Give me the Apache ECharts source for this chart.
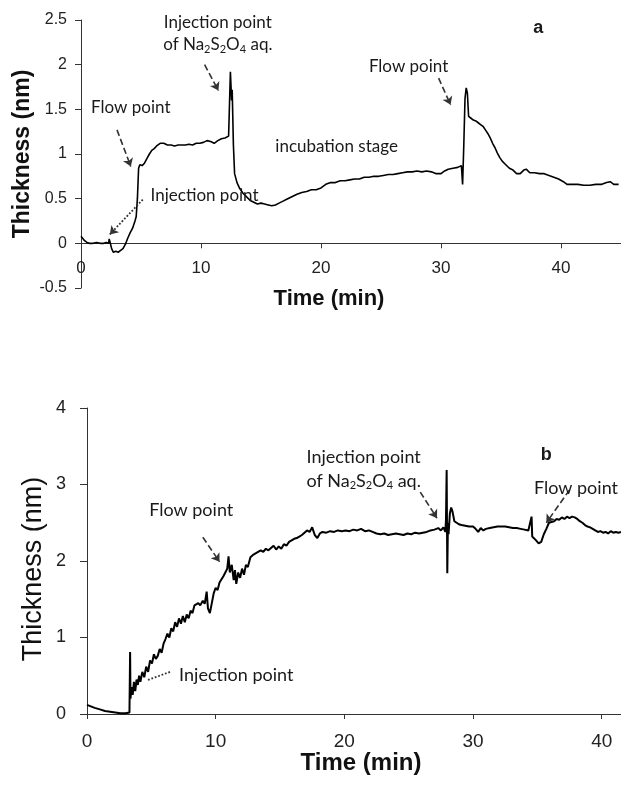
<!DOCTYPE html>
<html>
<head>
<meta charset="utf-8">
<script src="https://cdn.jsdelivr.net/npm/echarts@6/dist/echarts.min.js"></script>
<style>
html,body{margin:0;padding:0;background:#fff;}
#c{width:621px;height:785px;}
</style>
</head>
<body>
<div id="c"></div>
<script>
// ---------- Data ----------
const xTicksA = [0, 10, 20, 30, 40];
const yTicksA = [-0.5, 0, 0.5, 1, 1.5, 2, 2.5];
const xTicksB = [0, 10, 20, 30, 40];
const yTicksB = [0, 1, 2, 3, 4];

const timeA = [0,0.15,0.3,0.5,0.7,1.0,1.3,1.6,1.9,2.1,2.3,2.35,2.45,2.55,2.7,2.9,3.1,3.3,3.5,3.7,3.9,4.1,4.3,4.5,4.6,4.7,4.8,4.9,5.1,5.3,5.5,5.7,5.9,6.1,6.3,6.6,6.9,7.2,7.5,7.8,8.1,8.4,8.7,9.0,9.3,9.6,9.9,10.2,10.5,10.8,11.1,11.4,11.7,12.0,12.3,12.4,12.45,12.55,12.6,12.7,12.8,13.0,13.2,13.5,13.8,14.1,14.4,14.7,15.0,15.3,15.6,15.9,16.2,16.5,16.8,17.1,17.4,17.7,18.0,18.4,18.8,19.2,19.6,20.0,20.4,20.8,21.2,21.6,22.0,22.4,22.8,23.2,23.6,24.0,24.4,24.8,25.2,25.6,26.0,26.4,26.8,27.2,27.6,28.0,28.4,28.8,29.2,29.6,30.0,30.3,30.6,31.0,31.4,31.7,31.8,31.9,32.0,32.1,32.2,32.3,32.5,32.7,32.9,33.1,33.3,33.5,33.7,33.9,34.1,34.3,34.5,34.7,34.9,35.1,35.4,35.7,36.0,36.3,36.6,36.9,37.1,37.4,37.8,38.2,38.6,39.0,39.4,39.8,40.2,40.5,40.9,41.4,41.9,42.4,42.9,43.4,43.8,44.1,44.4,44.8];
const thickA = [0.08,0.07,0.03,0.01,0.0,0.0,0.01,0.0,0.0,0.01,0.0,0.05,0.0,-0.06,-0.1,-0.09,-0.1,-0.08,-0.06,-0.01,0.06,0.12,0.17,0.25,0.3,0.5,0.84,0.88,0.87,0.9,0.95,1.0,1.04,1.06,1.09,1.12,1.12,1.1,1.1,1.09,1.1,1.1,1.1,1.11,1.1,1.12,1.12,1.13,1.15,1.14,1.12,1.15,1.17,1.18,1.2,1.22,1.92,1.6,1.72,1.1,0.78,0.68,0.62,0.56,0.52,0.48,0.46,0.44,0.45,0.44,0.43,0.42,0.43,0.45,0.47,0.49,0.51,0.53,0.55,0.57,0.58,0.6,0.6,0.62,0.66,0.68,0.68,0.7,0.7,0.71,0.72,0.72,0.74,0.74,0.75,0.75,0.76,0.77,0.77,0.78,0.79,0.8,0.8,0.81,0.8,0.81,0.8,0.78,0.78,0.81,0.83,0.84,0.85,0.87,0.66,1.1,1.62,1.74,1.68,1.42,1.4,1.38,1.37,1.35,1.33,1.31,1.27,1.23,1.18,1.12,1.07,1.01,0.96,0.92,0.88,0.84,0.82,0.78,0.78,0.82,0.83,0.79,0.79,0.78,0.78,0.76,0.74,0.72,0.69,0.66,0.66,0.66,0.65,0.65,0.66,0.66,0.68,0.69,0.66,0.66];

const timeB = [0,0.3,0.6,1.0,1.4,1.8,2.2,2.6,3.0,3.3,3.35,3.38,3.45,3.55,3.65,3.75,3.85,3.95,4.05,4.15,4.3,4.45,4.6,4.75,4.9,5.05,5.2,5.35,5.5,5.65,5.8,5.95,6.1,6.25,6.4,6.55,6.7,6.85,7.0,7.15,7.3,7.45,7.6,7.75,7.9,8.05,8.2,8.35,8.5,8.65,8.8,9.0,9.15,9.3,9.4,9.55,9.7,9.85,10.0,10.15,10.3,10.45,10.6,10.75,10.9,11.0,11.1,11.25,11.4,11.5,11.6,11.75,11.9,12.05,12.2,12.35,12.5,12.7,12.9,13.1,13.3,13.5,13.7,13.9,14.1,14.3,14.5,14.7,14.9,15.1,15.3,15.5,15.7,15.9,16.1,16.3,16.5,16.7,16.9,17.1,17.3,17.5,17.7,17.9,18.1,18.3,18.6,18.9,19.2,19.5,19.8,20.1,20.4,20.7,21.0,21.3,21.6,21.9,22.2,22.5,22.8,23.1,23.4,23.7,24.0,24.3,24.6,24.9,25.2,25.5,25.8,26.1,26.4,26.7,27.0,27.3,27.5,27.7,27.85,27.9,27.95,28.0,28.05,28.1,28.2,28.3,28.4,28.55,28.7,28.9,29.1,29.4,29.7,30.0,30.2,30.4,30.6,30.8,31.0,31.3,31.6,31.9,32.2,32.5,32.8,33.1,33.4,33.7,34.0,34.3,34.45,34.55,34.6,34.75,34.9,35.1,35.3,35.5,35.7,35.9,36.1,36.3,36.5,36.7,36.9,37.1,37.3,37.5,37.7,37.9,38.1,38.3,38.5,38.7,38.9,39.1,39.3,39.5,39.7,39.9,40.1,40.3,40.5,40.7,40.9,41.1,41.3,41.5];
const thickB = [0.12,0.1,0.08,0.06,0.04,0.03,0.02,0.01,0.01,0.02,0.81,0.2,0.35,0.25,0.42,0.3,0.45,0.38,0.5,0.42,0.55,0.48,0.62,0.55,0.7,0.66,0.78,0.72,0.76,0.85,0.8,0.92,0.98,1.05,1.0,1.12,1.08,1.2,1.14,1.25,1.18,1.28,1.2,1.3,1.25,1.35,1.32,1.42,1.4,1.45,1.42,1.48,1.44,1.6,1.38,1.32,1.45,1.58,1.65,1.62,1.72,1.7,1.8,1.85,1.9,2.06,1.85,1.95,1.75,1.88,1.7,1.85,1.78,1.9,1.82,1.95,1.92,2.05,2.08,2.1,2.12,2.14,2.12,2.16,2.14,2.17,2.2,2.15,2.19,2.16,2.22,2.2,2.25,2.27,2.29,2.3,2.32,2.34,2.37,2.4,2.38,2.44,2.34,2.3,2.36,2.38,2.37,2.39,2.38,2.4,2.39,2.4,2.39,2.41,2.4,2.42,2.39,2.4,2.38,2.36,2.35,2.36,2.34,2.35,2.36,2.35,2.34,2.36,2.35,2.37,2.36,2.37,2.38,2.4,2.41,2.43,2.4,2.44,2.38,2.55,3.19,1.84,2.5,2.35,2.62,2.7,2.65,2.52,2.5,2.48,2.47,2.46,2.45,2.45,2.42,2.38,2.43,2.4,2.42,2.43,2.44,2.45,2.45,2.45,2.44,2.43,2.43,2.42,2.41,2.4,2.42,2.58,2.32,2.3,2.27,2.23,2.25,2.35,2.42,2.5,2.51,2.52,2.55,2.54,2.57,2.55,2.58,2.56,2.58,2.57,2.55,2.52,2.5,2.47,2.45,2.44,2.42,2.4,2.38,2.39,2.37,2.38,2.36,2.39,2.37,2.38,2.37,2.38];

// Annotation texts (anchored in data coordinates)
const notesA = [
  {t: 'Injection point', at: [11.4, 2.47]},
  {t: 'of Na{s|2}S{s|2}O{s|4} aq.', at: [11.4, 2.22]},
  {t: 'Flow point', at: [4.15, 1.52]},
  {t: 'Injection point', at: [10.3, 0.53]},
  {t: 'incubation stage', at: [21.3, 1.08]},
  {t: 'Flow point', at: [27.3, 1.98]}
];
const arrowsA = [
  {from: [10.3, 2.0], to: [11.45, 1.71], type: 'dashed', head: true},
  {from: [3.0, 1.27], to: [4.15, 0.86], type: 'dashed', head: true},
  {from: [5.15, 0.49], to: [2.4, 0.1], type: 'dotted', head: true},
  {from: [29.8, 1.85], to: [30.8, 1.55], type: 'dashed', head: true}
];
const notesB = [
  {t: 'Flow point', at: [8.1, 2.67]},
  {t: 'Injection point', at: [11.6, 0.51]},
  {t: 'Injection point', at: [21.5, 3.36]},
  {t: 'of Na{s|2}S{s|2}O{s|4} aq.', at: [21.5, 3.04]},
  {t: 'Flow point', at: [38.0, 2.95]}
];
const arrowsB = [
  {from: [9.0, 2.31], to: [10.3, 1.99], type: 'dashed', head: true},
  {from: [6.45, 0.55], to: [4.65, 0.44], type: 'dotted', head: false},
  {from: [25.9, 2.9], to: [27.2, 2.56], type: 'dashed', head: true},
  {from: [37.5, 2.93], to: [35.7, 2.5], type: 'dashed', head: true}
];
const panelA = {t: 'a', at: [38.1, 2.41]};
const panelB = {t: 'b', at: [35.7, 3.39]};

// ---------- Build ----------
const zip = (xs, ys) => xs.map((x, i) => [x, ys[i]]);
const annFont = 'Lato';
function markPts(notes, panel, fs) {
  const d = notes.map(n => ({
    coord: n.at,
    label: {formatter: n.t}
  }));
  d.push({coord: panel.at, label: {formatter: panel.t, fontFamily: 'Liberation Sans', fontWeight: 'bold', fontSize: 18}});
  return {
    symbol: 'circle', symbolSize: 1,
    itemStyle: {color: 'rgba(0,0,0,0)'},
    label: {
      show: true, position: 'inside', color: '#1a1a1a',
      fontFamily: annFont, fontSize: fs, lineHeight: fs + 2,
      rich: {s: {fontFamily: annFont, fontSize: Math.round(fs * 0.62), lineHeight: 6, padding: [Math.round(fs * 0.55), 0, 0, 0], verticalAlign: 'bottom', color: '#1a1a1a'}}
    },
    data: d,
    animation: false
  };
}
function markLns(arrows) {
  return {
    silent: true,
    animation: false,
    label: {show: false},
    symbolSize: 8,
    data: arrows.map(a => [
      {coord: a.from, symbol: 'none', lineStyle: {type: a.type, color: '#333', width: a.type === 'dotted' ? 1.8 : 1.6}},
      {coord: a.to, symbol: a.head ? 'arrow' : 'none'}
    ])
  };
}

const axisCol = '#333';
const chart = echarts.init(document.getElementById('c'), null, {renderer: 'canvas'});
chart.setOption({
  animation: false,
  backgroundColor: '#fff',
  grid: [
    {left: 81, right: 0, top: 20, bottom: 497, outerBoundsMode: 'none', containLabel: false},
    {left: 87, right: 0, top: 408, bottom: 71, outerBoundsMode: 'none', containLabel: false}
  ],
  xAxis: [
    {
      gridIndex: 0, type: 'value', min: 0, max: 45,
      offset: -44.7,
      name: 'Time (min)', nameLocation: 'middle', nameGap: 45, nameMoveOverlap: false,
      nameTextStyle: {fontFamily: 'Liberation Sans', fontWeight: 'bold', fontSize: 22, color: '#111', padding: [0, 44, 0, 0]},
      axisLine: {onZero: false, lineStyle: {color: axisCol, width: 1}},
      axisTick: {show: true, length: 5, customValues: xTicksA, lineStyle: {color: axisCol}},
      axisLabel: {customValues: xTicksA, margin: 17, fontFamily: 'Liberation Sans', fontSize: 17, color: '#222'},
      splitLine: {show: false}
    },
    {
      gridIndex: 1, type: 'value', min: 0, max: 41.5,
      name: 'Time (min)', nameLocation: 'middle', nameGap: 37, nameMoveOverlap: false,
      nameTextStyle: {fontFamily: 'Liberation Sans', fontWeight: 'bold', fontSize: 24, color: '#111', padding: [0, 0, 0, 14]},
      axisLine: {onZero: false, lineStyle: {color: axisCol, width: 1}},
      axisTick: {show: true, length: 5, customValues: xTicksB, lineStyle: {color: axisCol}},
      axisLabel: {customValues: xTicksB, margin: 18, fontFamily: 'Liberation Sans', fontSize: 19, color: '#222'},
      splitLine: {show: false}
    }
  ],
  yAxis: [
    {
      gridIndex: 0, type: 'value', min: -0.5, max: 2.5, interval: 0.5,
      name: 'Thickness (nm)', nameLocation: 'middle', nameGap: 47, nameMoveOverlap: false,
      nameTextStyle: {fontFamily: 'Liberation Sans', fontWeight: 'bold', fontSize: 23, color: '#111'},
      axisLine: {show: true, lineStyle: {color: axisCol, width: 1}},
      axisTick: {show: true, length: 6, lineStyle: {color: axisCol}},
      axisLabel: {margin: 14, fontFamily: 'Liberation Sans', fontSize: 16, color: '#222',
        customValues: yTicksA},
      splitLine: {show: false}
    },
    {
      gridIndex: 1, type: 'value', min: 0, max: 4, interval: 1,
      name: 'Thickness (nm)', nameLocation: 'middle', nameGap: 40, nameMoveOverlap: false,
      nameTextStyle: {fontFamily: 'Liberation Sans', fontSize: 27, color: '#111', padding: [0, 16, 0, 0]},
      axisLine: {show: true, lineStyle: {color: axisCol, width: 1}},
      axisTick: {show: true, length: 7, lineStyle: {color: axisCol}},
      axisLabel: {margin: 21, fontFamily: 'Liberation Sans', fontSize: 18, color: '#222',
        customValues: yTicksB},
      splitLine: {show: false}
    }
  ],
  series: [
    {
      type: 'line', xAxisIndex: 0, yAxisIndex: 0,
      data: zip(timeA, thickA), showSymbol: false, smooth: false,
      lineStyle: {color: '#000', width: 1.6}, clip: true,
      markPoint: markPts(notesA, panelA, 17),
      markLine: markLns(arrowsA)
    },
    {
      type: 'line', xAxisIndex: 1, yAxisIndex: 1,
      data: zip(timeB, thickB), showSymbol: false, smooth: false,
      lineStyle: {color: '#000', width: 2}, clip: true,
      markPoint: markPts(notesB, panelB, 18),
      markLine: markLns(arrowsB)
    }
  ]
});
</script>
</body>
</html>
